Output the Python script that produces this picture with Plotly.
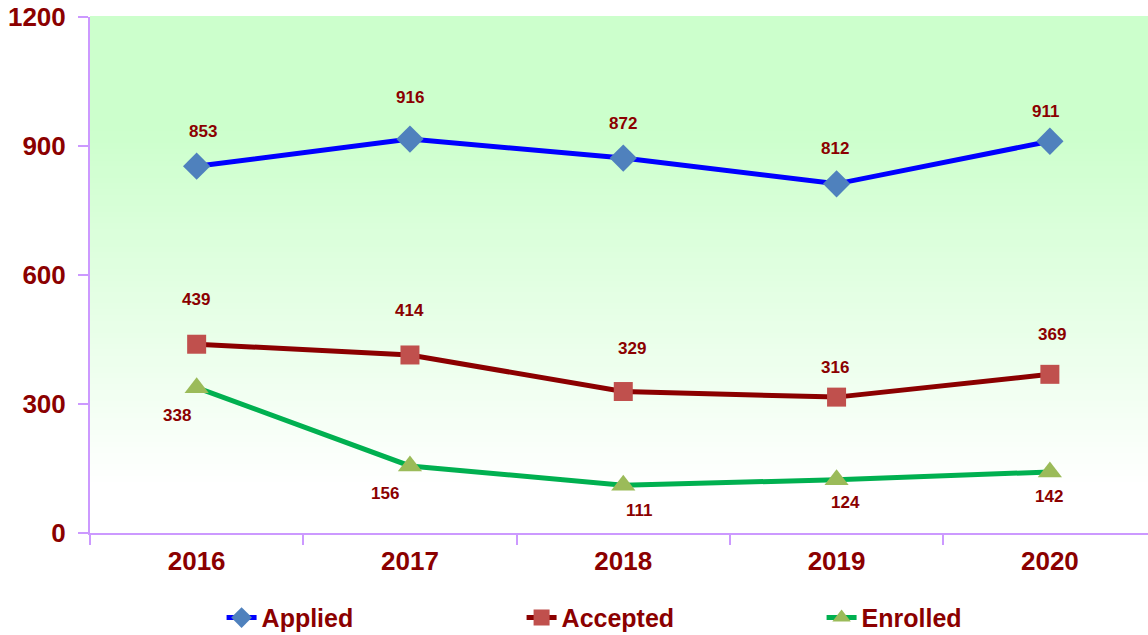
import plotly.graph_objects as go

years = ["2016", "2017", "2018", "2019", "2020"]
applied = [853, 916, 872, 812, 911]
accepted = [439, 414, 329, 316, 369]
enrolled = [338, 156, 111, 124, 142]
y_ticks = [0, 300, 600, 900, 1200]

TXT = "#8B0000"
AXC = "#CC99FF"
FONT = "Liberation Sans, Arial, sans-serif"

fig = go.Figure()

fig.add_trace(go.Scatter(
    x=years, y=applied, name="Applied", mode="lines+markers",
    line=dict(color="#0000FF", width=5),
    marker=dict(symbol="diamond", size=21, color="#4F81BD"),
))
fig.add_trace(go.Scatter(
    x=years, y=accepted, name="Accepted", mode="lines+markers",
    line=dict(color="#8B0000", width=5),
    marker=dict(symbol="square", size=19, color="#C0504D"),
))
fig.add_trace(go.Scatter(
    x=years, y=enrolled, name="Enrolled", mode="lines+markers",
    line=dict(color="#00B050", width=5),
    marker=dict(symbol="triangle-up", size=21, color="#9BBB59"),
))

# data labels (offsets are styling only); x uses the category index
offs = {
    "applied": [(6, 35), (0, 42), (0, 35), (-2, 35), (-4, 30)],
    "accepted": [(-1, 45), (0, 44), (9, 43), (-2, 30), (2, 40)],
    "enrolled": [(-20, -28), (-25, -28), (16, -25), (9, -23), (-1, -25)],
}
for key, vals in (("applied", applied), ("accepted", accepted), ("enrolled", enrolled)):
    for i, yv in enumerate(vals):
        dx, dy = offs[key][i]
        fig.add_annotation(x=i, y=yv, xref="x", yref="y", text=str(yv), showarrow=False,
                           xshift=dx, yshift=dy,
                           font=dict(family=FONT, size=17, color=TXT, weight="bold"))

# gradient background
shapes = []
N = 90
top_g, bot_w = 0.78, 0.09
for k in range(N):
    y0 = k / N
    y1 = (k + 1) / N
    ym = (y0 + y1) / 2
    if ym >= top_g:
        t = 1.0
    elif ym <= bot_w:
        t = 0.0
    else:
        t = (ym - bot_w) / (top_g - bot_w)
    c = round(255 - (255 - 204) * t)
    shapes.append(dict(type="rect", xref="paper", yref="paper", x0=0, x1=1,
                       y0=y0, y1=y1 + 0.002, line=dict(width=0),
                       fillcolor=f"rgb({c},255,{c})", layer="below"))

fig.update_layout(
    width=1148, height=635,
    margin=dict(l=90, r=0, t=17, b=102),
    paper_bgcolor="white", plot_bgcolor="white",
    shapes=shapes,
    font=dict(family=FONT, color=TXT),
    xaxis=dict(
        type="category", range=[-0.5, 4.46],
        showline=True, linecolor=AXC, linewidth=2,
        ticks="outside", tickson="boundaries", ticklen=10, tickcolor=AXC, tickwidth=2,
        showgrid=False, zeroline=False,
        tickfont=dict(family=FONT, size=26, color=TXT, weight="bold"),
        ticklabelstandoff=4,
    ),
    yaxis=dict(
        range=[0, 1200], tickvals=y_ticks,
        showline=True, linecolor=AXC, linewidth=2,
        ticks="outside", ticklen=10, tickcolor=AXC, tickwidth=2,
        showgrid=False, zeroline=False,
        tickfont=dict(family=FONT, size=26, color=TXT, weight="bold"),
        ticklabelstandoff=7,
    ),
    legend=dict(
        orientation="h", xref="container", yref="container",
        x=0.585, xanchor="center", y=0.027, yanchor="middle",
        font=dict(family=FONT, size=25, color=TXT, weight="bold"),
        entrywidth=255, entrywidthmode="pixels",
        bgcolor="rgba(0,0,0,0)",
    ),
    showlegend=True,
)

fig.write_html("out.html", config={"displayModeBar": False},
               post_script="document.body.style.margin='0';document.body.style.overflow='hidden';")
